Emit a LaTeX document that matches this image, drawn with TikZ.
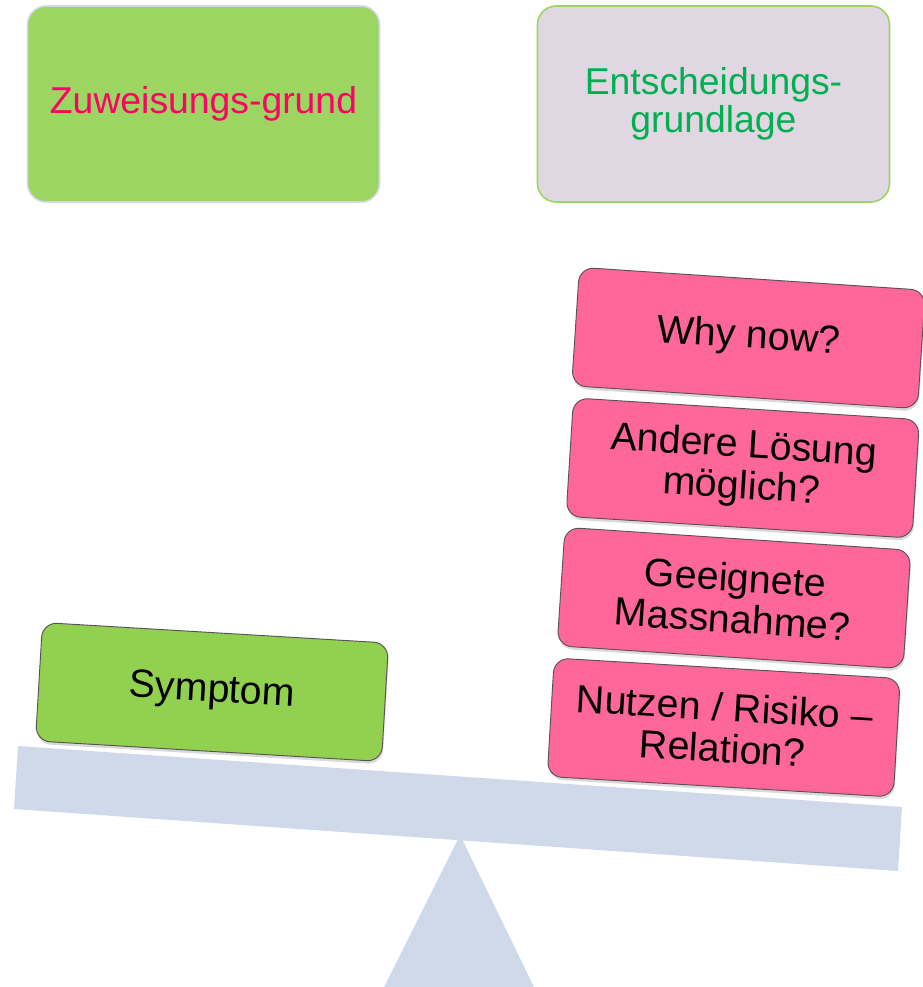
\documentclass[tikz,border=0pt]{standalone}
\usepackage{fontspec}
\setmainfont{Liberation Sans}
\usetikzlibrary{shadows}

\definecolor{topgreen}{HTML}{9DD562}
\definecolor{symgreen}{HTML}{92D050}
\definecolor{lavender}{HTML}{E1D7E3}
\definecolor{weightpink}{HTML}{FF6699}
\definecolor{beamblue}{HTML}{CFD9E9}
\definecolor{textpink}{HTML}{FF0066}
\definecolor{textgreen}{HTML}{00B050}
\definecolor{edgegray}{HTML}{5A5058}

\begin{document}
\begin{tikzpicture}[x=0.75pt, y=-0.75pt,
  topbox/.style={draw, line width=1.2pt, rounded corners=14pt, minimum width=264pt, minimum height=147pt, align=center, font=\fontsize{28}{29}\selectfont},
  weight/.style={draw=edgegray, line width=0.7pt, rounded corners=11pt, minimum width=260pt, minimum height=89pt, align=center, font=\fontsize{29.5}{31}\selectfont, drop shadow={opacity=0.3, shadow xshift=0.6pt, shadow yshift=-2.2pt}}]

  \useasboundingbox (0,0) rectangle (922,987);

  % Top labels
  \node[topbox, fill=topgreen, draw=beamblue, text=textpink] (grund) at (203.5,104) {Zuweisungs-grund};
  \node[topbox, fill=lavender, draw=topgreen, text=textgreen] (basis) at (713.5,104) {Entscheidungs-\\grundlage};

  % Seesaw
  \fill[beamblue] (460,835) -- (384,987) -- (534,987) -- cycle;
  \fill[beamblue] (18,746) -- (902,807) -- (898,871) -- (14,809) -- cycle;

  % Left pan
  \node[weight, fill=symgreen, rotate=-3.4] (sym) at (212,692) {Symptom};

  % Right pan, stacked
  \node[weight, fill=weightpink, rotate=-3.8] (why) at (748.5,338) {Why now?};
  \node[weight, fill=weightpink, rotate=-3.6] (alt) at (742.75,468) {Andere Lösung\\möglich?};
  \node[weight, fill=weightpink, rotate=-3.8] (fit) at (734,598) {Geeignete\\Massnahme?};
  \node[weight, fill=weightpink, rotate=-3.4] (risk) at (723.75,727.5) {Nutzen / Risiko –\\Relation?};

\end{tikzpicture}
\end{document}
